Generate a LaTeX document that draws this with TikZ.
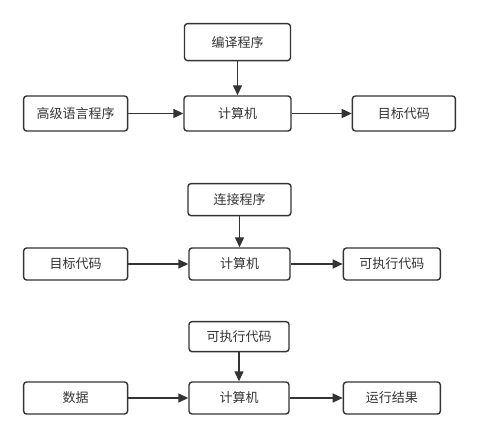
\documentclass[tikz,border=0pt]{standalone}
\usepackage{fontspec}
\newfontfamily\cjk{Noto Sans CJK SC}
\usetikzlibrary{arrows.meta,positioning}
\definecolor{ink}{HTML}{333333}

\begin{document}
\begin{tikzpicture}[
    x=1pt, y=-1pt,
    box/.style={
        draw=ink,
        text=ink,
        line width=1.4pt,
        rounded corners=3pt,
        minimum height=32pt,
        inner sep=0pt,
        align=center,
        font=\cjk\fontsize{13}{15}\selectfont
    },
    arrow/.style={-{Triangle[length=10pt,width=9pt]}, draw=ink, line width=1.4pt}
]
\useasboundingbox (0,0) rectangle (479,438);

% 编译
\node[box, minimum width=107pt, minimum height=35pt] (cpu1) at (237.5,113.5) {计算机};
\node[box, minimum width=106pt, minimum height=37pt, above=34pt of cpu1] (comp) {编译程序};
\node[box, minimum width=104pt, minimum height=35pt, left=55pt of cpu1] (src) {高级语言程序};
\node[box, minimum width=103pt, minimum height=35pt, right=60pt of cpu1] (obj1) {目标代码};

\draw[arrow] (comp) -- (cpu1);
\draw[arrow] (src) -- (cpu1);
\draw[arrow] (cpu1) -- (obj1);

% 连接
\node[box, minimum width=101pt] (cpu2) at (239.5,264) {计算机};
\node[box, minimum width=103pt, above=31pt of cpu2] (link) {连接程序};
\node[box, minimum width=104pt, left=60pt of cpu2] (obj2) {目标代码};
\node[box, minimum width=97pt, right=52pt of cpu2] (exe1) {可执行代码};

\draw[arrow] (link) -- (cpu2);
\draw[arrow] (obj2) -- (cpu2);
\draw[arrow] (cpu2) -- (exe1);

% 运行
\node[box, minimum width=100pt] (cpu3) at (239,398) {计算机};
\node[box, minimum width=100pt, minimum height=30pt, above=29pt of cpu3] (exe2) {可执行代码};
\node[box, minimum width=104pt, left=60pt of cpu3] (data) {数据};
\node[box, minimum width=97pt, right=53pt of cpu3] (res) {运行结果};

\draw[arrow] (exe2) -- (cpu3);
\draw[arrow] (data) -- (cpu3);
\draw[arrow] (cpu3) -- (res);
\end{tikzpicture}
\end{document}
